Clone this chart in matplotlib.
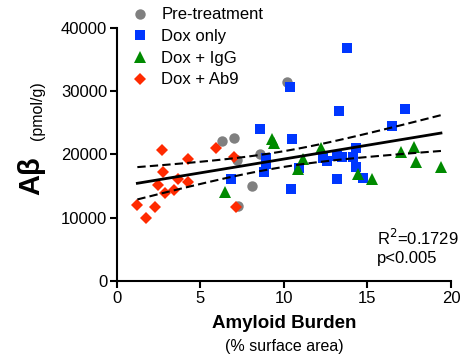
import numpy as np
import matplotlib
matplotlib.use("Agg")
import matplotlib.pyplot as plt

plt.rcParams['font.family'] = ['Liberation Sans', 'DejaVu Sans']

# amyloid burden (% surface area) and Abeta (pmol/g) per group
pre_x = [6.30, 7.00, 7.20, 8.10, 8.54, 7.26, 10.20]
pre_y = [22070, 22550, 19120, 15060, 20020, 11850, 31490]

dox_x = [8.56, 10.36, 10.46, 8.90, 8.90, 8.82, 6.82, 10.40, 10.90, 13.80, 13.32,
         17.22, 16.46, 14.32, 14.16, 12.32, 12.60, 13.16, 13.46, 14.32, 13.20, 14.76]
dox_y = [23970, 30700, 22440, 19390, 18440, 17270, 16070, 14450, 17900, 36770, 26910,
         27180, 24540, 20970, 19640, 19390, 19010, 19750, 19540, 18060, 16070, 16230]

igg_x = [6.46, 9.30, 9.42, 10.85, 11.12, 12.20, 14.46, 15.30, 17.02, 17.76, 17.90, 19.40]
igg_y = [14110, 22350, 21800, 17700, 19230, 20970, 16860, 16120, 20430, 21130, 18760, 17960]

ab9_x = [2.70, 5.92, 4.26, 2.76, 7.02, 2.46, 3.66, 4.26, 2.90, 3.40, 1.22, 2.30, 1.76, 7.10]
ab9_y = [20700, 20970, 19230, 17270, 19640, 15170, 16070, 15690, 13950, 14380, 12010,
         11740, 9910, 11740]

fig = plt.figure(figsize=(4.7, 3.58), dpi=100)
ax = fig.add_axes([0.2489, 0.2151, 0.7106, 0.7075])

ax.plot(pre_x, pre_y, 'o', color='#808080', ms=7.5, mew=0, label='Pre-treatment', clip_on=False)
ax.plot(dox_x, dox_y, 's', color='#0037FF', ms=7, mew=0, label='Dox only', clip_on=False)
ax.plot(igg_x, igg_y, '^', color='#008A00', ms=8.5, mew=0, label='Dox + IgG', clip_on=False)
ax.plot(ab9_x, ab9_y, 'D', color='#FF2A00', ms=6.5, mew=0, label='Dox + Ab9', clip_on=False)

# linear regression with 95% confidence band over all animals
x = np.array(pre_x + dox_x + igg_x + ab9_x)
y = np.array(pre_y + dox_y + igg_y + ab9_y)
n = len(x)
slope, icpt = np.polyfit(x, y, 1)
resid = y - (slope * x + icpt)
s = np.sqrt(np.sum(resid ** 2) / (n - 2))
t = 2.006
xs = np.linspace(x.min(), x.max(), 100)
fit = slope * xs + icpt
se = s * np.sqrt(1 / n + (xs - x.mean()) ** 2 / np.sum((x - x.mean()) ** 2))
ax.plot(xs, fit, color='black', lw=2)
ax.plot(xs, fit + t * se, color='black', lw=1.5, ls=(0, (4, 2)))
ax.plot(xs, fit - t * se, color='black', lw=1.5, ls=(0, (4, 2)))

ax.set_xlim(0, 20)
ax.set_ylim(0, 40000)
ax.set_xticks([0, 5, 10, 15, 20])
ax.set_yticks([0, 10000, 20000, 30000, 40000])
for side in ['top', 'right']:
    ax.spines[side].set_visible(False)
for side in ['left', 'bottom']:
    ax.spines[side].set_linewidth(1.5)
ax.tick_params(width=1.5, length=5, labelsize=12, pad=2, colors='black')

leg = ax.legend(loc='upper left', bbox_to_anchor=(0.04, 1.08), frameon=False, fontsize=12,
                handletextpad=0.65, labelspacing=0.4, handlelength=1.2, borderaxespad=0,
                borderpad=0)

ax.text(0.779, 0.142, 'R$^2$=0.1729', transform=ax.transAxes, fontsize=12)
ax.text(0.779, 0.071, 'p<0.005', transform=ax.transAxes, fontsize=12)

fig.text(284 / 470, 1 - 324 / 358, 'Amyloid Burden', ha='center', va='center',
         fontsize=13.5, fontweight='bold')
fig.text(284 / 470, 1 - 346 / 358, '(% surface area)', ha='center', va='center', fontsize=11.5)
fig.text(31 / 470, 1 - 176 / 358, 'A\u03b2', ha='center', va='center', rotation=90,
         fontsize=21, fontweight='bold')
fig.text(38 / 470, 1 - 111 / 358, '(pmol/g)', ha='center', va='center', rotation=90,
         fontsize=11.5)

fig.savefig('out.png', dpi=100)
